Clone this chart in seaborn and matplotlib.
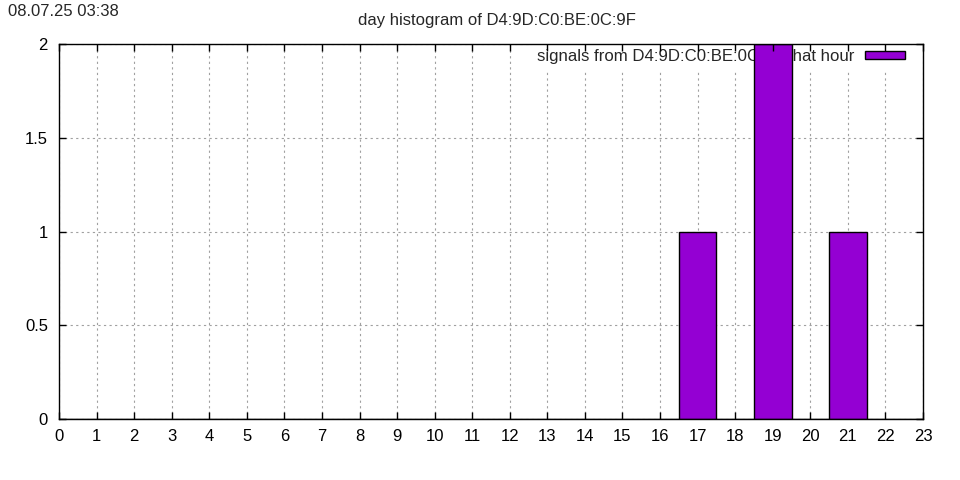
import matplotlib
matplotlib.use("Agg")
import matplotlib.pyplot as plt
import seaborn as sns
import pandas as pd

hours = list(range(24))
counts = [0]*17 + [1, 0, 2, 0, 1, 0, 0]
x_ticks = list(range(24))
y_ticks = [0, 0.5, 1, 1.5, 2]
y_tick_labels = ["0", "0.5", "1", "1.5", "2"]
title = "day histogram of D4:9D:C0:BE:0C:9F"
stamp = "08.07.25 03:38"
series_label = "signals from D4:9D:C0:BE:0C:9F that hour"

sns.set_theme(style="white")
plt.rcParams['font.family'] = ['Liberation Sans', 'DejaVu Sans']

df = pd.DataFrame({"hour": hours, "count": counts})

fig = plt.figure(figsize=(9.6, 4.8), dpi=100)
ax = fig.add_axes([59/960, 1-419/480, (923-59)/960, (419-44)/480])

sns.barplot(data=df, x="hour", y="count", native_scale=True, width=1.0,
            color="#9400D3", saturation=1, edgecolor="black", linewidth=1,
            ax=ax, zorder=3, label=series_label)

ax.set_xlim(0, 23)
ax.set_ylim(0, 2)
ax.set_xticks(x_ticks)
ax.set_xticklabels([str(t) for t in x_ticks], fontsize=12)
ax.set_yticks(y_ticks)
ax.set_yticklabels(y_tick_labels, fontsize=12)
ax.set_xlabel("")
ax.set_ylabel("")
ax.grid(True, color="#a0a0a0", linestyle=(0, (2, 3)), linewidth=0.8, zorder=0)
ax.set_axisbelow(True)
ax.tick_params(direction="in", length=5, width=1, top=False, right=True,
               bottom=True, left=True, colors="black", labelcolor="black")
ax.tick_params(axis="x", pad=7)
ax.tick_params(axis="y", pad=8)
for s in ax.spines.values():
    s.set_color("black")
    s.set_linewidth(1)
    s.set_zorder(5)

top = ax.secondary_xaxis("top")
top.set_xticks(x_ticks)
top.set_xticklabels([])
top.tick_params(direction="in", length=5, width=1, colors="black")
for s in top.spines.values():
    s.set_visible(False)
top.set_zorder(6)

leg = ax.legend(loc="upper right", bbox_to_anchor=(1 - 13/864, 1),
                markerfirst=False, frameon=True, fontsize=12.1,
                handlelength=2.35, handleheight=0.42, handletextpad=0.65,
                borderaxespad=0, borderpad=0.3,
                fancybox=False, edgecolor="white", framealpha=1)
leg.set_zorder(2.5)

fig.text(497/960, 1-20/480, title, ha="center", va="center", fontsize=12)
fig.text(8/960, 1-12/480, stamp, ha="left", va="center", fontsize=12)

fig.savefig("out.png", dpi=100)
